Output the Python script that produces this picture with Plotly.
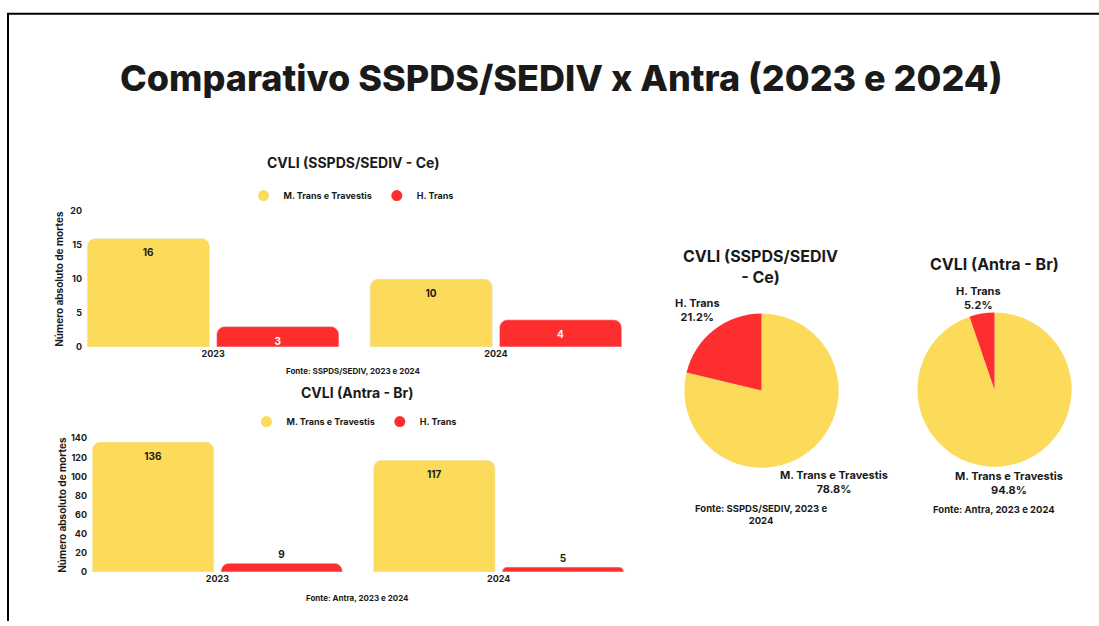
import plotly.graph_objects as go

# ---------------- data ----------------
years = ["2023", "2024"]
series_names = ["M. Trans e Travestis", "H. Trans"]
ce_mtrans = [16, 10]
ce_htrans = [3, 4]
br_mtrans = [136, 117]
br_htrans = [9, 5]
ce_ticks = [0, 5, 10, 15, 20]
br_ticks = [0, 20, 40, 60, 80, 100, 120, 140]

main_title = "Comparativo SSPDS/SEDIV x Antra (2023 e 2024)"
ce_title = "CVLI (SSPDS/SEDIV - Ce)"
br_title = "CVLI (Antra - Br)"
ce_source = "Fonte: SSPDS/SEDIV, 2023 e 2024"
br_source = "Fonte: Antra, 2023 e 2024"
y_title = "Número absoluto de mortes"

# pie slices: M. Trans e Travestis first, H. Trans second (totals of both years)
pie_labels = ["M. Trans e Travestis", "H. Trans"]
ce_pie = [sum(ce_mtrans), sum(ce_htrans)]
br_pie = [sum(br_mtrans), sum(br_htrans)]

# ---------------- style ----------------
W, H = 1099, 626
YELLOW = "#FDDB5A"
RED = "#FF2E2E"
DARK = "#1a1a1a"
FONT = "Inter, 'Open Sans', sans-serif"


def px(x):
    return x / W


def py(y):
    return 1 - y / H


fig = go.Figure()

lbl = dict(size=10, family=FONT, weight="bold")

# ---- top bar chart (Ce) ----
fig.add_trace(go.Bar(x=years, y=ce_mtrans, name=series_names[0], marker_color=YELLOW,
                     xaxis="x", yaxis="y", showlegend=False,
                     text=ce_mtrans, textposition="inside", insidetextanchor="end",
                     textangle=0, textfont=dict(color=DARK, **lbl)))
fig.add_trace(go.Bar(x=years, y=ce_htrans, name=series_names[1], marker_color=RED,
                     xaxis="x", yaxis="y", showlegend=False,
                     text=ce_htrans, textposition="inside", insidetextanchor="end",
                     textangle=0, textfont=dict(color="white", **lbl)))

# ---- bottom bar chart (Br) ----
fig.add_trace(go.Bar(x=years, y=br_mtrans, name=series_names[0], marker_color=YELLOW,
                     xaxis="x2", yaxis="y2", showlegend=False,
                     text=br_mtrans, textposition="inside", insidetextanchor="end",
                     textangle=0, textfont=dict(color=DARK, **lbl)))
fig.add_trace(go.Bar(x=years, y=br_htrans, name=series_names[1], marker_color=RED,
                     xaxis="x2", yaxis="y2", showlegend=False,
                     text=br_htrans, textposition="outside",
                     textangle=0, textfont=dict(color=DARK, **lbl),
                     cliponaxis=False))

# ---- legend proxies (circle markers) ----
for lg, xa, ya in [("legend", "x", "y"), ("legend2", "x2", "y2")]:
    for name, col in zip(series_names, [YELLOW, RED]):
        fig.add_trace(go.Scatter(x=[None], y=[None], mode="markers", name=name,
                                 marker=dict(symbol="circle", size=11, color=col),
                                 xaxis=xa, yaxis=ya, legend=lg, showlegend=True))

# ---- pies ----
fig.add_trace(go.Pie(labels=pie_labels, values=ce_pie, sort=False, direction="clockwise",
                     rotation=0, marker=dict(colors=[YELLOW, RED]), textinfo="none",
                     showlegend=False,
                     domain=dict(x=[px(683), px(840)], y=[py(470), py(313)])))
fig.add_trace(go.Pie(labels=pie_labels, values=br_pie, sort=False, direction="clockwise",
                     rotation=0, marker=dict(colors=[YELLOW, RED]), textinfo="none",
                     showlegend=False,
                     domain=dict(x=[px(916), px(1073)], y=[py(469), py(312)])))

tickfont = dict(size=9, color=DARK, family=FONT, weight="bold")
axtitlefont = dict(size=10, color=DARK, family=FONT, weight="bold")

fig.update_layout(
    width=W, height=H, autosize=False,
    margin=dict(l=0, r=0, t=0, b=0),
    paper_bgcolor="white", plot_bgcolor="white",
    font=dict(family=FONT, color=DARK),
    barmode="group", bargap=0.085, bargroupgap=0.055, barcornerradius=8,
    xaxis=dict(domain=[px(83), px(626)], range=[-0.46, 1.46], anchor="y",
               showgrid=False, zeroline=False, showline=False, ticks="",
               tickfont=tickfont, fixedrange=True),
    yaxis=dict(domain=[py(347), py(209)], range=[0, 20], anchor="x",
               tickvals=ce_ticks, showgrid=False, zeroline=False, showline=False,
               ticks="", tickfont=tickfont,
               title=dict(text=y_title, font=axtitlefont, standoff=4)),
    xaxis2=dict(domain=[px(88), px(628)], range=[-0.46, 1.46], anchor="y2",
                showgrid=False, zeroline=False, showline=False, ticks="",
                tickfont=tickfont),
    yaxis2=dict(domain=[py(576), py(440)], range=[0, 140], anchor="x2",
                tickvals=br_ticks, showgrid=False, zeroline=False, showline=False,
                ticks="", tickfont=tickfont,
                title=dict(text=y_title, font=axtitlefont, standoff=2)),
    legend=dict(orientation="h", x=px(351), y=py(193), xanchor="center", yanchor="middle",
                font=dict(size=9, color=DARK, family=FONT, weight="bold"),
                bgcolor="rgba(0,0,0,0)", itemclick=False, itemdoubleclick=False),
    legend2=dict(orientation="h", x=px(354), y=py(423), xanchor="center", yanchor="middle",
                 font=dict(size=9, color=DARK, family=FONT, weight="bold"),
                 bgcolor="rgba(0,0,0,0)", itemclick=False, itemdoubleclick=False),
    showlegend=True,
)

annotations = []


def ann(text, x, y, size, xanchor="center", yanchor="middle", weight="bold"):
    annotations.append(dict(text=text, x=px(x), y=py(y), xref="paper", yref="paper",
                            xanchor=xanchor, yanchor=yanchor, showarrow=False,
                            font=dict(size=size, color=DARK, family=FONT, weight=weight)))


ann(main_title, 561, 73, 36, weight=800)
ann(ce_title, 353, 159, 14)
ann(br_title, 357, 393, 14)
ann(ce_source, 353, 372, 8)
ann(br_source, 357, 603, 8)
ann(ce_title.replace("SEDIV - ", "SEDIV<br>- "), 760, 265, 16)
ann(br_title, 994, 263, 16)
ann(ce_source.replace(" 2024", "<br>2024"), 761, 518, 9.5)
ann(br_source, 994, 513, 9.5)

ce_total = sum(ce_pie)
br_total = sum(br_pie)
ann(f"{pie_labels[1]}<br>{100 * ce_pie[1] / ce_total:.1f}%", 697, 309, 11)
ann(f"{pie_labels[0]}<br>{100 * ce_pie[0] / ce_total:.1f}%", 834, 485, 11)
ann(f"{pie_labels[1]}<br>{100 * br_pie[1] / br_total:.1f}%", 978, 297, 11)
ann(f"{pie_labels[0]}<br>{100 * br_pie[0] / br_total:.1f}%", 1009, 486, 11)

fig.update_layout(annotations=annotations)

# page frame (border visible at top and left)
fig.update_layout(shapes=[
    dict(type="line", xref="paper", yref="paper", x0=px(7), x1=1.0, y0=py(8), y1=py(8),
         line=dict(color="black", width=2)),
    dict(type="line", xref="paper", yref="paper", x0=px(8), x1=px(8), y0=py(7), y1=0,
         line=dict(color="black", width=2)),
])

fig.write_html("out.html", config={"displayModeBar": False},
               post_script="document.body.style.margin='0';document.body.style.overflow='hidden';")
